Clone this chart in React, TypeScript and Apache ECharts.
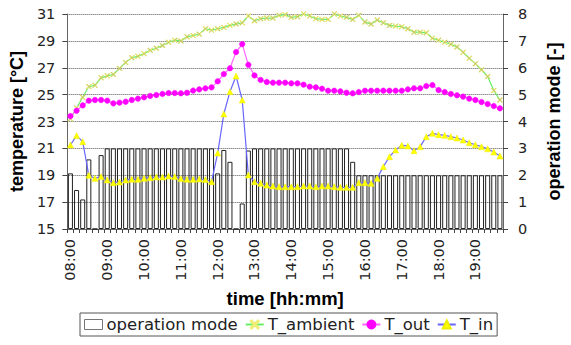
import React, { useEffect, useRef } from "react";
import * as echarts from "echarts";

const categories = [
  "08:00","08:10","08:20","08:30","08:40","08:50",
  "09:00","09:10","09:20","09:30","09:40","09:50",
  "10:00","10:10","10:20","10:30","10:40","10:50",
  "11:00","11:10","11:20","11:30","11:40","11:50",
  "12:00","12:10","12:20","12:30","12:40","12:50",
  "13:00","13:10","13:20","13:30","13:40","13:50",
  "14:00","14:10","14:20","14:30","14:40","14:50",
  "15:00","15:10","15:20","15:30","15:40","15:50",
  "16:00","16:10","16:20","16:30","16:40","16:50",
  "17:00","17:10","17:20","17:30","17:40","17:50",
  "18:00","18:10","18:20","18:30","18:40","18:50",
  "19:00","19:10","19:20","19:30","19:40",
];

const operationMode = [
  2.07, 1.45, 1.1, 2.59, 0, 2.75,
  3, 3, 3, 3, 3, 3, 3, 3, 3, 3, 3, 3, 3, 3, 3, 3, 3, 3,
  2.07, 2.94, 2.5, 0, 0.95, 2.92,
  3, 3, 3, 3, 3, 3, 3, 3, 3, 3, 3, 3, 3, 3, 3, 3,
  2.5,
  2, 2, 2, 2, 2, 2, 2, 2, 2, 2, 2, 2, 2, 2, 2, 2, 2, 2, 2, 2, 2, 2, 2, 2,
];

const tAmbient = [
  23.2, 24.0, 24.8, 25.6, 25.7, 26.25, 26.4, 26.5, 26.95, 27.4,
  27.75, 27.85, 28.05, 28.3, 28.45, 28.65, 28.9, 29.05, 29.0, 29.3,
  29.4, 29.5, 29.9, 29.8, 29.9, 30.0, 30.15, 30.25, 30.35, 30.85,
  30.5, 30.65, 30.7, 30.7, 30.9, 30.95, 30.75, 30.8, 31.0, 30.85,
  30.65, 30.6, 30.6, 31.0, 30.85, 30.75, 30.6, 30.9, 30.4, 30.25,
  30.55, 30.35, 30.15, 30.1, 30.05, 29.9, 29.65, 29.65, 29.6, 29.2,
  29.05, 28.9, 28.75, 28.55, 28.15, 27.7, 27.3, 26.85, 26.35, 25.3,
  24.6,
];

const tOut = [
  23.4, 23.8, 24.2, 24.55, 24.6, 24.6, 24.55, 24.35, 24.4, 24.47,
  24.6, 24.7, 24.8, 24.9, 24.97, 25.05, 25.12, 25.12, 25.1, 25.14,
  25.3, 25.39, 25.47, 25.54, 25.99, 26.53, 26.96, 28.17, 28.76, 27.22,
  26.43, 26.09, 25.94, 25.89, 25.89, 25.89, 25.84, 25.84, 25.74, 25.59,
  25.54, 25.44, 25.29, 25.29, 25.24, 25.14, 25.1, 25.19, 25.29, 25.29,
  25.29, 25.29, 25.29, 25.29, 25.29, 25.39, 25.47, 25.47, 25.64, 25.71,
  25.34, 25.19, 25.05, 24.95, 24.85, 24.7, 24.6, 24.45, 24.3, 24.15,
  23.98,
];

const tIn = [
  21.25, 21.95, 21.5, 19.0, 18.77, 18.9, 18.65, 18.45, 18.5, 18.65,
  18.7, 18.7, 18.78, 18.82, 18.87, 18.87, 18.94, 18.9, 18.75, 18.7,
  18.7, 18.72, 18.68, 18.52, 20.65, 23.56, 25.22, 26.38, 24.6, 19.02,
  18.52, 18.4, 18.27, 18.2, 18.15, 18.15, 18.15, 18.15, 18.2, 18.2,
  18.15, 18.2, 18.2, 18.15, 18.1, 18.1, 18.1, 18.45, 18.45, 18.4,
  18.77, 19.64, 20.38, 20.88, 21.23, 21.18, 20.83, 21.13, 21.87, 22.12,
  22.02, 21.97, 21.87, 21.77, 21.62, 21.42, 21.27, 21.13, 20.97, 20.73,
  20.43,
];

const FONT = "DejaVu Sans";
const TITLE_FONT = "Liberation Sans";

export default function App() {
  const ref = useRef<HTMLDivElement>(null);
  useEffect(() => {
    if (!ref.current) return;
    const chart = echarts.init(ref.current, null, { renderer: "svg" });
    const xMark = "path://M0,1 L1,0 L5,4 L9,0 L10,1 L6,5 L10,9 L9,10 L5,6 L1,10 L0,9 L4,5 Z";
    const titleStyle = { fontFamily: TITLE_FONT, fontSize: 18, fontWeight: "bold", color: "#000" };
    const tickStyle = { fontSize: 14.5, color: "#222", fontFamily: FONT };
    chart.setOption({
      animation: false,
      textStyle: { fontFamily: FONT },
      grid: { left: 65, right: 63, top: 14, bottom: 116 },
      legend: {
        left: 80,
        top: 313,
        orient: "horizontal",
        borderColor: "#555",
        borderWidth: 1,
        padding: [3, 4, 3, 4],
        itemGap: 7,
        itemWidth: 18,
        itemHeight: 10,
        textStyle: { fontFamily: FONT, fontSize: 16.5, color: "#222", padding: [0, 0, 0, -1] },
        data: [
          { name: "operation mode", icon: "rect", itemStyle: { color: "#fff", borderColor: "#777", borderWidth: 1 } },
          "T_ambient",
          "T_out",
          "T_in",
        ],
      },
      xAxis: {
        type: "category",
        data: categories,
        boundaryGap: true,
        name: "time [hh:mm]",
        nameLocation: "middle",
        nameGap: 56,
        nameTextStyle: { ...titleStyle, fontSize: 18.5 },
        axisLine: { lineStyle: { color: "#666", width: 1 } },
        axisTick: { show: true, interval: 0, length: 4, lineStyle: { color: "#444" } },
        axisLabel: { ...tickStyle, interval: 5, rotate: 90, margin: 10 },
        splitLine: { show: false },
      },
      yAxis: [
        {
          type: "value",
          min: 15,
          max: 31,
          interval: 2,
          position: "left",
          name: "temperature [°C]",
          nameLocation: "middle",
          nameRotate: 90,
          nameGap: 32,
          nameTextStyle: titleStyle,
          axisLine: { show: true, lineStyle: { color: "#666" } },
          axisTick: { show: true, length: 5, lineStyle: { color: "#444" } },
          axisLabel: { ...tickStyle, margin: 12 },
          splitLine: { show: true, lineStyle: { color: "#555", type: "dotted", width: 1 } },
        },
        {
          type: "value",
          min: 0,
          max: 8,
          interval: 1,
          position: "right",
          name: "operation mode [-]",
          nameLocation: "middle",
          nameRotate: 90,
          nameGap: 42,
          nameTextStyle: titleStyle,
          axisLine: { show: true, lineStyle: { color: "#666" } },
          axisTick: { show: true, length: 5, lineStyle: { color: "#444" } },
          axisLabel: { ...tickStyle, margin: 15 },
          splitLine: { show: false },
        },
      ],
      series: [
        {
          name: "operation mode",
          type: "bar",
          yAxisIndex: 1,
          data: operationMode,
          barCategoryGap: "18%",
          itemStyle: { color: "rgba(255,255,255,0)", borderColor: "#222", borderWidth: 1 },
          z: 1,
        },
        {
          name: "T_ambient",
          type: "line",
          yAxisIndex: 0,
          data: tAmbient,
          symbol: xMark,
          symbolSize: 5,
          showAllSymbol: true,
          lineStyle: { color: "#66ee66", width: 1.2 },
          itemStyle: { color: "#555533", borderColor: "#eeee77", borderWidth: 1 },
          z: 3,
        },
        {
          name: "T_out",
          type: "line",
          yAxisIndex: 0,
          data: tOut,
          symbol: "circle",
          symbolSize: 5.5,
          showAllSymbol: true,
          lineStyle: { color: "#ff66ff", width: 1.2 },
          itemStyle: { color: "#ff00ff", borderColor: "#ff00ff", borderWidth: 0.5 },
          z: 3,
        },
        {
          name: "T_in",
          type: "line",
          yAxisIndex: 0,
          data: tIn,
          symbol: "triangle",
          symbolSize: 6,
          showAllSymbol: true,
          lineStyle: { color: "#6666ff", width: 1.2 },
          itemStyle: { color: "#ffff00", borderColor: "#eeee00", borderWidth: 0.5 },
          z: 4,
        },
      ],
    });
    return () => chart.dispose();
  }, []);
  return <div ref={ref} style={{ width: 571, height: 345, position: "absolute", left: 0, top: 0 }} />;
}
